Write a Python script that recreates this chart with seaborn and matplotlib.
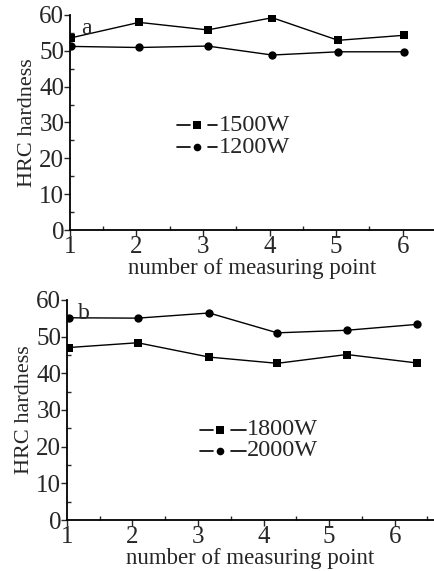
import matplotlib
matplotlib.use("Agg")
import matplotlib.pyplot as plt
import pandas as pd
import seaborn as sns
from matplotlib.ticker import MultipleLocator

# Panel a data
points_a = [1.02, 2.04, 3.07, 4.04, 5.03, 6.02]
hrc_1500 = [53.6, 57.9, 55.8, 59.2, 52.9, 54.3]
hrc_1200 = [51.2, 50.9, 51.3, 48.8, 49.7, 49.7]

# Panel b data
points_b = [1.03, 2.08, 3.17, 4.21, 5.27, 6.34]
hrc_1800 = [47.0, 48.3, 44.4, 42.7, 45.1, 42.8]
hrc_2000 = [55.1, 55.0, 56.4, 51.0, 51.7, 53.3]

xticks = [1, 2, 3, 4, 5, 6]
yticks = [0, 10, 20, 30, 40, 50, 60]

sns.set_style("ticks")
plt.rcParams['font.family'] = ['Liberation Serif', 'DejaVu Serif']

df_a = pd.DataFrame({
    "x": points_a * 2,
    "y": hrc_1500 + hrc_1200,
    "power": ["1500W"] * 6 + ["1200W"] * 6,
})
df_b = pd.DataFrame({
    "x": points_b * 2,
    "y": hrc_1800 + hrc_2000,
    "power": ["1800W"] * 6 + ["2000W"] * 6,
})

fig = plt.figure(figsize=(4.34, 5.71), dpi=100)
ax_a = fig.add_axes([0.161, 0.597, 0.839, 0.377])
ax_b = fig.add_axes([0.154, 0.089, 0.846, 0.386])


def draw_panel(ax, df, order, xmax, tag, leg, xpad):
    sns.lineplot(data=df, x="x", y="y", hue="power", style="power",
                 hue_order=order, style_order=order,
                 palette=["black", "black"], markers={order[0]: "s", order[1]: "o"},
                 dashes=False, markersize=6, markeredgewidth=0, linewidth=1,
                 ax=ax, legend=False)
    ax.set_xlim(1, xmax)
    ax.set_ylim(0, 60)
    ax.set_xticks(xticks)
    ax.set_yticks(yticks)
    ax.xaxis.set_minor_locator(MultipleLocator(0.5))
    ax.yaxis.set_minor_locator(MultipleLocator(5))
    ax.tick_params(which="major", direction="out", length=4, width=1, labelsize=18, pad=0)
    ax.tick_params(which="minor", direction="in", length=3, width=1)
    for s in ["top", "right"]:
        ax.spines[s].set_visible(False)
    for s in ["left", "bottom"]:
        ax.spines[s].set_linewidth(1.3)
        ax.spines[s].set_color("black")
    ax.set_xlabel("number of measuring point", fontsize=16.5, labelpad=xpad)
    ax.set_ylabel("HRC hardness", fontsize=16, labelpad=2)
    ax.text(0.03, 0.985, tag, transform=ax.transAxes, fontsize=17, va="top", ha="left")
    # legend drawn as dash-marker-dash + text
    x0, xm, x1, xt, y0, dy = leg
    markers = ["s", "o"]
    for i, lab in enumerate(order):
        yy = y0 - i * dy
        ax.plot([x0, xm - 0.02], [yy, yy], transform=ax.transAxes, color="black", lw=1.2)
        ax.plot([xm + 0.03, x1], [yy, yy], transform=ax.transAxes, color="black", lw=1.2)
        ax.plot([xm], [yy], transform=ax.transAxes, color="black",
                marker=markers[i], markersize=5.5, markeredgewidth=0, ls="none")
        ax.text(xt, yy, lab, transform=ax.transAxes, fontsize=17.5, va="center", ha="left")


draw_panel(ax_a, df_a, ["1500W", "1200W"], 6.47, "a", (0.294, 0.349, 0.405, 0.41, 0.488, 0.102), 0)
draw_panel(ax_b, df_b, ["1800W", "2000W"], 6.6, "b", (0.362, 0.417, 0.488, 0.49, 0.41, 0.095), 0)

fig.savefig("out.png", dpi=100)
